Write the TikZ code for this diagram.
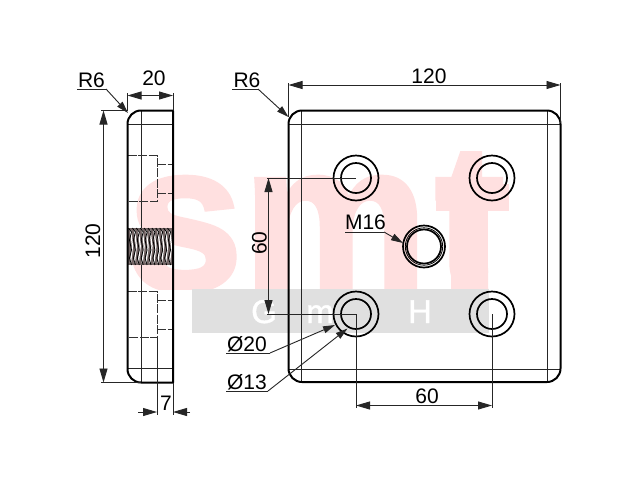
\documentclass[tikz,border=0pt]{standalone}
\usepackage{fontspec}
\setmainfont{Liberation Sans}
\newfontfamily\wmfont[FakeBold=2.2]{Liberation Sans Bold}
\newfontfamily\wmsmall[FakeBold=1.2]{Liberation Sans}
\usetikzlibrary{arrows.meta}
\definecolor{wmpink}{HTML}{FFE0E0}
\definecolor{wmgrey}{HTML}{E0E0E0}
\tikzset{
  x=1pt,y=-1pt,
  thin line/.style={line width=0.9pt,draw=black!85},
  outline/.style={line width=2pt,draw=black},
  ring/.style={line width=1.7pt,draw=black},
  hid/.style={line width=0.85pt,draw=black!80,dash pattern=on 9pt off 1.5pt},
  dimline/.style={thin line,{Triangle[length=14pt,width=8pt]}-{Triangle[length=14pt,width=8pt]}},
  tipend/.style={thin line,-{Triangle[length=14pt,width=8pt]}},
  leader/.style={thin line,-{Triangle[length=12pt,width=7pt]}},
  lab/.style={inner sep=0pt,font=\fontsize{21}{21}\selectfont},
  wmtext/.style={anchor=base,inner sep=0pt,text=white,font=\fontsize{33}{33}\wmsmall},
  wmbig/.style={anchor=base west,inner sep=0pt,text=wmpink,font=\fontsize{208}{208}\wmfont},
}
\begin{document}
\begin{tikzpicture}
\useasboundingbox (0,0) rectangle (640,480);
\fill[white] (0,0) rectangle (640,480);
% watermark
\begin{scope}
\clip (100,100) rectangle (430,289);
\node[wmbig] (wmsm) at (127,289) {sm};
\end{scope}
\begin{scope}
\clip (430,130) -- (515,130) -- (515,211) -- (488,211) -- (488,289) -- (430,289) -- cycle;
\node[wmbig] (wmt) at (435,289) {t};
\end{scope}
\fill[wmpink] (451,205) rectangle (488,289);
\fill[wmpink] (436,184) rectangle (509,211);
\fill[wmgrey] (192,289) rectangle (489,333);
\node[wmtext] (wmg) at (264,323) {G};
\node[wmtext] (wmm) at (320,323) {m};
\node[wmtext] (wmh) at (420,323) {H};
% side view - inner lines
\draw[thin line] (141,110.5) -- (141,382.5);
\draw[thin line] (127.5,124) -- (173,124);
\draw[thin line] (127.5,368.5) -- (173,368.5);
% hidden counterbores
\draw[hid] (127.5,155.5) -- (157,155.5) -- (157,201) -- (127.5,201);
\draw[hid] (157,164) -- (173,164);
\draw[hid] (157,193.5) -- (173,193.5);
\draw[hid] (127.5,291.5) -- (157,291.5) -- (157,337.5) -- (127.5,337.5);
\draw[hid] (157,300) -- (173,300);
\draw[hid] (157,329) -- (173,329);
% thread
\fill[black!55!wmpink] (128,228) rectangle (172.5,265);
\foreach \i in {0,...,10}{
  \draw[white,line width=1.2pt] ({130.5+3.9*\i},230) -- ({132.5+3.9*\i},246) -- ({130.5+3.9*\i},263);
  \draw[black,line width=0.8pt] ({128.5+3.9*\i},228) -- ({131.5+3.9*\i},232) -- ({129.5+3.9*\i},240) -- ({131.5+3.9*\i},250) -- ({129.5+3.9*\i},258) -- ({131.5+3.9*\i},265);
}
% side view outline
\draw[outline,line join=round] (173,110.5) -- (141,110.5) .. controls (133.5,110.5) and (127.5,116.5) .. (127.5,124) -- (127.5,369) .. controls (127.5,376.5) and (133.5,382.5) .. (141,382.5) -- (173,382.5) -- cycle;
% plate
\draw[thin line] (301.5,110.5) -- (301.5,382);
\draw[thin line] (547,110.5) -- (547,382);
\draw[thin line] (288.5,124) -- (560.5,124);
\draw[thin line] (288.5,369) -- (560.5,369);
\draw[outline,rounded corners=13.5pt] (288.5,110.5) rectangle (560.5,382);
% holes
\foreach \cx/\cy/\n in {356/178/a,492/178/b,356/314/c,492/314/d}{
  \coordinate (hole\n) at (\cx,\cy);
  \draw[ring] (hole\n) circle[radius=22.5];
  \draw[ring] (hole\n) circle[radius=15];
}
\coordinate (holem) at (424,246.5);
\draw[ring] (holem) circle[radius=21];
\draw[line width=0.8pt] (holem) circle[radius=18.7];
\draw[ring] (holem) circle[radius=17];
% named anchors for dimensions
\coordinate (s20l) at (127.5,95.5);
\coordinate (s20r) at (173,95.5);
\coordinate (s120t) at (103.5,110.5);
\coordinate (s120b) at (103.5,382.5);
\coordinate (s7l) at (157,412);
\coordinate (s7r) at (173,412);
\coordinate (p120l) at (288.5,85);
\coordinate (p120r) at (560.5,85);
\coordinate (p60t) at (268.5,178);
\coordinate (p60b) at (268.5,314);
\coordinate (p60l) at (356,405.5);
\coordinate (p60r) at (492,405.5);
% side dims
\draw[thin line] (127.5,110) -- (127.5,92.5);
\draw[thin line] (173,110) -- (173,92.5);
\draw[dimline] (s20l) -- (s20r);
\node[lab] (t20) at (154,78) {20};
\draw[thin line] (101,110.5) -- (127.5,110.5);
\draw[thin line] (101,382.5) -- (141,382.5);
\draw[dimline] (s120t) -- (s120b);
\node[lab,rotate=90] (ts120) at (93,241) {120};
\draw[thin line] (157,337.5) -- (157,415);
\draw[thin line] (173,382.5) -- (173,415);
\coordinate (s7a) at (138,412);
\coordinate (s7b) at (190,412);
\draw[tipend] (s7a) -- (s7l);
\draw[tipend] (s7b) -- (s7r);
\node[lab] (t7) at (166,403) {7};
% R6 side
\node[lab] (tr6a) at (91.5,80) {R6};
\coordinate (r6au) at (77,89);
\coordinate (r6ae) at (106,89);
\coordinate (r6at) at (128,113);
\draw[thin line] (r6au) -- (r6ae);
\draw[leader] (r6ae) -- (r6at);
% plate 120
\draw[thin line] (288.5,117) -- (288.5,83);
\draw[thin line] (560.5,123) -- (560.5,83);
\draw[dimline] (p120l) -- (p120r);
\node[lab] (tp120) at (429,76) {120};
% R6 plate
\node[lab] (tr6b) at (247,80) {R6};
\coordinate (r6bu) at (232,89);
\coordinate (r6be) at (258,89);
\coordinate (r6bt) at (288.5,117);
\draw[thin line] (r6bu) -- (r6be);
\draw[leader] (r6be) -- (r6bt);
% 60 vertical
\draw[thin line] (267,178) -- (holea);
\draw[thin line] (267,314) -- (holec);
\draw[dimline] (p60t) -- (p60b);
\node[lab,rotate=90] (tp60v) at (259.5,243) {60};
% 60 horizontal
\draw[thin line] (holec) -- (356,408);
\draw[thin line] (holed) -- (492,408);
\draw[dimline] (p60l) -- (p60r);
\node[lab] (tp60h) at (427,396.5) {60};
% M16
\node[lab] (tm16) at (365.5,222) {M16};
\coordinate (m16u) at (345,232);
\coordinate (m16e) at (384,232);
\coordinate (m16t) at (403,243);
\draw[thin line] (m16u) -- (m16e);
\draw[leader] (m16e) -- (m16t);
% diameters
\node[lab] (td20) at (247,344) {Ø20};
\coordinate (d20u) at (226,353);
\coordinate (d20e) at (270,353);
\coordinate (d20t) at (335,325);
\draw[thin line] (d20u) -- (d20e);
\draw[leader] (d20e) -- (d20t);
\node[lab] (td13) at (247,382) {Ø13};
\coordinate (d13u) at (226,391);
\coordinate (d13e) at (268,391);
\coordinate (d13t) at (347.5,328.5);
\draw[thin line] (d13u) -- (d13e);
\draw[leader] (d13e) -- (d13t);
\end{tikzpicture}
\end{document}
